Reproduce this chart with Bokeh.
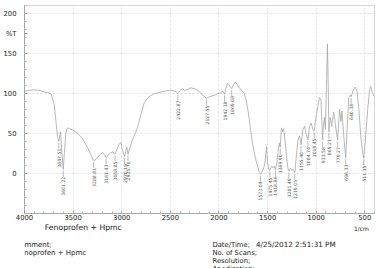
import numpy as np
from bokeh.plotting import figure
from bokeh.layouts import column
from bokeh.models import Range1d, FixedTicker, ColumnDataSource
from bokeh.core.properties import value
from bokeh.embed import file_html
from bokeh.resources import INLINE

# IR transmission spectrum (wavenumber in 1/cm, %T)
wavenumber = [
    4000, 3950, 3900, 3850, 3800, 3760, 3724, 3694, 3673, 3658, 3647.51, 3630,
    3615, 3601.22, 3590, 3575, 3560, 3540, 3500, 3450, 3400, 3350, 3320,
    3288.81, 3260, 3230, 3200, 3180, 3161.43, 3140, 3110, 3090, 3068.85, 3050,
    3030, 3010, 2995, 2970.19, 2955, 2948, 2935.76, 2915, 2890, 2860, 2830,
    2800, 2770, 2730, 2680, 2620, 2560, 2500, 2460, 2440, 2422.87, 2405, 2380,
    2350, 2320, 2290, 2250, 2220, 2190, 2160, 2127.55, 2100, 2070, 2040, 2010,
    1980, 1960, 1942.38, 1925, 1910, 1895, 1880, 1869.08, 1850, 1835, 1815,
    1790, 1760, 1740, 1720, 1700, 1680, 1660, 1640, 1620, 1600, 1585, 1573.04,
    1560, 1544, 1527, 1510, 1500, 1487, 1475.45, 1460, 1440, 1430, 1418.86,
    1405, 1390, 1380, 1369.90, 1357, 1345, 1335, 1320, 1305, 1290, 1281.49,
    1265, 1250, 1235, 1219.05, 1204, 1187, 1170, 1155.40, 1136, 1119, 1102,
    1084.74, 1068, 1051, 1034, 1019.45, 1000, 983, 966, 950, 940, 933.58, 925,
    915, 905, 892, 884, 876, 869.21, 855, 840, 820, 800, 790, 779.27, 760, 745,
    735, 715, 696.33, 680, 665, 650, 640.38, 620, 600, 580, 560, 540, 520,
    511.15, 495, 470, 450, 440, 420, 400,
]
transmittance = [
    103, 104, 104.5, 104, 102, 101, 99, 86, 61, 44, 40, 52,
    25, 5, 25, 50, 57, 56, 54, 50, 43, 32, 24,
    16, 18, 23, 26, 24, 20, 23, 26, 27, 24, 30,
    36, 39, 30, 21, 30, 33, 24, 33, 42, 50, 61,
    75, 88, 95, 99, 101, 103, 104, 103, 102, 100, 103, 106,
    104, 105, 107, 106, 104, 101, 97, 94, 96, 97, 98, 100,
    101, 103, 99, 108, 113, 111, 108, 106, 111, 114, 112,
    107, 103, 100, 92, 78, 60, 42, 28, 17, 8, 2, -1,
    1, 5, 13, 34, 13, 5, 4, 9, 7, 9, 5,
    13, 30, 38, 33, 57, 52, 56, 42, 22, 6, 3,
    7, 4, 5, 1, 22, 42, 47, 36, 55, 59, 49,
    42, 59, 63, 55, 53, 72, 84, 95, 92, 60, 42, 60,
    70, 55, 120, 162, 110, 52, 70, 59, 77, 60, 50, 42, 80, 65,
    78, 45, 20, 60, 95, 98, 96, 104, 108, 103, 80, 45, 25,
    19, 40, 80, 105, 109, 100, 96,
]

# Annotated band positions (1/cm)
peak_positions = [
    3647.51, 3601.22, 3288.81, 3161.43, 3068.85, 2970.19, 2935.76, 2422.87,
    2127.55, 1942.38, 1869.08, 1573.04, 1475.45, 1418.86, 1369.90, 1281.49,
    1219.05, 1155.40, 1084.74, 1019.45, 933.58, 869.21, 779.27, 696.33,
    640.38, 511.15,
]

x_ticks = [4000, 3500, 3000, 2500, 2000, 1500, 1000, 500]
y_ticks = [0, 50, 100, 150, 200]
y_unit_tick = 175          # where the "%T" unit sits on the ordinate

sample_name = "Fenoprofen  + Hpmc"
timestamp = "4/25/2012 2:51:31 PM"

FONT = "DejaVu Sans"
W = 378
PLOT_H = 223
INFO_H = 268 - PLOT_H

p = figure(
    width=W, height=PLOT_H,
    x_range=Range1d(4000, 400), y_range=Range1d(-50, 210),
    output_backend="svg", toolbar_location=None,
    min_border_left=21, min_border_right=4, min_border_top=5, min_border_bottom=PLOT_H - 213,
    background_fill_color="white", border_fill_color="white",
)
p.outline_line_color = "#cccccc"
p.outline_line_width = 0.8

# axes
for ax in (p.xaxis, p.yaxis):
    ax.axis_line_color = "#9a9a9a"
    ax.axis_line_width = 0.8
    ax.major_tick_line_color = "#9a9a9a"
    ax.minor_tick_line_color = "#b0b0b0"
    ax.major_tick_in = 3
    ax.major_tick_out = 0
    ax.minor_tick_in = 2
    ax.minor_tick_out = 0
    ax.major_label_text_font = FONT
    ax.major_label_text_font_size = "6.8px"
    ax.major_label_text_color = "#222222"

p.xaxis.ticker = FixedTicker(ticks=x_ticks, minor_ticks=list(range(400, 4001, 100)))
p.yaxis.ticker = FixedTicker(ticks=y_ticks + [y_unit_tick], minor_ticks=list(range(-50, 211, 10)))
p.yaxis.major_label_overrides = {y_unit_tick: "%T"}
p.xaxis.major_label_standoff = 1
p.xaxis.major_label_text_align = "right"
p.yaxis.major_label_standoff = 8

p.xgrid.ticker = FixedTicker(ticks=x_ticks)
p.ygrid.ticker = FixedTicker(ticks=y_ticks)
for g in (p.xgrid, p.ygrid):
    g.grid_line_color = "#d6d6d6"
    g.grid_line_dash = "2 2"
    g.grid_line_width = 0.7

# spectrum trace
p.line(wavenumber, transmittance, line_color="#a6a6a6", line_width=0.8)

# band annotations: tick line under each minimum, value written vertically
peak_t = np.interp(peak_positions[::-1], wavenumber[::-1], transmittance[::-1])[::-1]
gap = 9
src = ColumnDataSource(dict(
    x=peak_positions,
    y0=peak_t - 1.5,
    y1=peak_t - gap,
    label=[f"{v:.2f}" for v in peak_positions],
))
p.segment(x0="x", y0="y0", x1="x", y1="y1", source=src, line_color="#8a8a8a", line_width=0.6)
p.text(x="x", y="y1", text="label", source=src, angle=np.pi / 2,
       text_align="right", text_baseline="middle",
       text_font=value(FONT), text_font_size="4.6px", text_color="#555555")

# information block under the spectrum, laid out in page pixels
info = figure(
    width=W, height=INFO_H,
    x_range=Range1d(0, W), y_range=Range1d(268, PLOT_H),
    output_backend="svg", toolbar_location=None,
    x_axis_type=None, y_axis_type=None, min_border=0,
    background_fill_color="white", border_fill_color="white",
)
info.grid.visible = False
info.outline_line_color = None

info_rows = dict(
    x=[22, 372, -10, -9, 203, 250, 203, 203, 203],
    y=[227, 228, 244, 252, 244, 244, 252, 260, 268],
    text=[sample_name, "1/cm", "Comment;", sample_name, "Date/Time;", timestamp,
          "No. of Scans;", "Resolution;", "Apodization;"],
    align=["left", "right", "left", "left", "left", "left", "left", "left", "left"],
    size=["7.7px", "6px", "7px", "7px", "6.8px", "7.2px", "6.8px", "6.8px", "6.8px"],
)
info.text(x="x", y="y", text="text", text_align="align", text_font_size="size",
          source=ColumnDataSource(info_rows), text_baseline="middle",
          text_font=value(FONT), text_color="#222222")

layout = column(p, info, spacing=0)
open("out.html", "w").write(file_html(layout, INLINE))
